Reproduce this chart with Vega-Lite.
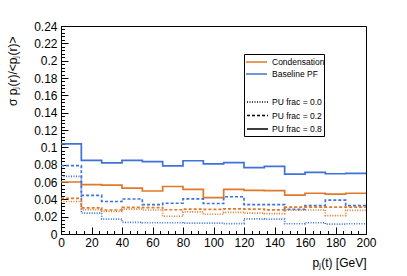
{
  "$schema": "https://vega.github.io/schema/vega-lite/v6.json",
  "width": 305,
  "height": 208,
  "autosize": {"type": "none"},
  "padding": {"left": 61, "top": 26, "right": 41, "bottom": 42},
  "background": "white",
  "config": {"view": {"stroke": "black", "strokeWidth": 1}, "font": "Liberation Sans"},
  "data": {"values": [
    {"algo":"Baseline PF","pu":"0.8","pt":0,"s":0.104},{"algo":"Baseline PF","pu":"0.8","pt":13.333,"s":0.085},{"algo":"Baseline PF","pu":"0.8","pt":26.667,"s":0.082},{"algo":"Baseline PF","pu":"0.8","pt":40,"s":0.085},{"algo":"Baseline PF","pu":"0.8","pt":53.333,"s":0.0835},{"algo":"Baseline PF","pu":"0.8","pt":66.667,"s":0.0785},{"algo":"Baseline PF","pu":"0.8","pt":80,"s":0.0845},{"algo":"Baseline PF","pu":"0.8","pt":93.333,"s":0.081},{"algo":"Baseline PF","pu":"0.8","pt":106.667,"s":0.0823},{"algo":"Baseline PF","pu":"0.8","pt":120,"s":0.0767},{"algo":"Baseline PF","pu":"0.8","pt":133.333,"s":0.078},{"algo":"Baseline PF","pu":"0.8","pt":146.667,"s":0.069},{"algo":"Baseline PF","pu":"0.8","pt":160,"s":0.071},{"algo":"Baseline PF","pu":"0.8","pt":173.333,"s":0.0695},{"algo":"Baseline PF","pu":"0.8","pt":186.667,"s":0.07},{"algo":"Baseline PF","pu":"0.8","pt":200,"s":0.07},
    {"algo":"Condensation","pu":"0.8","pt":0,"s":0.06},{"algo":"Condensation","pu":"0.8","pt":13.333,"s":0.057},{"algo":"Condensation","pu":"0.8","pt":26.667,"s":0.0565},{"algo":"Condensation","pu":"0.8","pt":40,"s":0.053},{"algo":"Condensation","pu":"0.8","pt":53.333,"s":0.0496},{"algo":"Condensation","pu":"0.8","pt":66.667,"s":0.0548},{"algo":"Condensation","pu":"0.8","pt":80,"s":0.0515},{"algo":"Condensation","pu":"0.8","pt":93.333,"s":0.042},{"algo":"Condensation","pu":"0.8","pt":106.667,"s":0.0515},{"algo":"Condensation","pu":"0.8","pt":120,"s":0.0503},{"algo":"Condensation","pu":"0.8","pt":133.333,"s":0.05},{"algo":"Condensation","pu":"0.8","pt":146.667,"s":0.0448},{"algo":"Condensation","pu":"0.8","pt":160,"s":0.047},{"algo":"Condensation","pu":"0.8","pt":173.333,"s":0.046},{"algo":"Condensation","pu":"0.8","pt":186.667,"s":0.047},{"algo":"Condensation","pu":"0.8","pt":200,"s":0.047},
    {"algo":"Baseline PF","pu":"0.2","pt":0,"s":0.079},{"algo":"Baseline PF","pu":"0.2","pt":13.333,"s":0.0445},{"algo":"Baseline PF","pu":"0.2","pt":26.667,"s":0.0375},{"algo":"Baseline PF","pu":"0.2","pt":40,"s":0.0404},{"algo":"Baseline PF","pu":"0.2","pt":53.333,"s":0.034},{"algo":"Baseline PF","pu":"0.2","pt":66.667,"s":0.0355},{"algo":"Baseline PF","pu":"0.2","pt":80,"s":0.0405},{"algo":"Baseline PF","pu":"0.2","pt":93.333,"s":0.0352},{"algo":"Baseline PF","pu":"0.2","pt":106.667,"s":0.043},{"algo":"Baseline PF","pu":"0.2","pt":120,"s":0.034},{"algo":"Baseline PF","pu":"0.2","pt":133.333,"s":0.034},{"algo":"Baseline PF","pu":"0.2","pt":146.667,"s":0.0285},{"algo":"Baseline PF","pu":"0.2","pt":160,"s":0.0328},{"algo":"Baseline PF","pu":"0.2","pt":173.333,"s":0.039},{"algo":"Baseline PF","pu":"0.2","pt":186.667,"s":0.0328},{"algo":"Baseline PF","pu":"0.2","pt":200,"s":0.0328},
    {"algo":"Condensation","pu":"0.2","pt":0,"s":0.041},{"algo":"Condensation","pu":"0.2","pt":13.333,"s":0.0302},{"algo":"Condensation","pu":"0.2","pt":26.667,"s":0.0277},{"algo":"Condensation","pu":"0.2","pt":40,"s":0.0308},{"algo":"Condensation","pu":"0.2","pt":53.333,"s":0.0305},{"algo":"Condensation","pu":"0.2","pt":66.667,"s":0.028},{"algo":"Condensation","pu":"0.2","pt":80,"s":0.0288},{"algo":"Condensation","pu":"0.2","pt":93.333,"s":0.0285},{"algo":"Condensation","pu":"0.2","pt":106.667,"s":0.029},{"algo":"Condensation","pu":"0.2","pt":120,"s":0.0288},{"algo":"Condensation","pu":"0.2","pt":133.333,"s":0.0278},{"algo":"Condensation","pu":"0.2","pt":146.667,"s":0.031},{"algo":"Condensation","pu":"0.2","pt":160,"s":0.031},{"algo":"Condensation","pu":"0.2","pt":173.333,"s":0.031},{"algo":"Condensation","pu":"0.2","pt":186.667,"s":0.031},{"algo":"Condensation","pu":"0.2","pt":200,"s":0.031},
    {"algo":"Baseline PF","pu":"0.0","pt":0,"s":0.0665},{"algo":"Baseline PF","pu":"0.0","pt":13.333,"s":0.024},{"algo":"Baseline PF","pu":"0.0","pt":26.667,"s":0.0172},{"algo":"Baseline PF","pu":"0.0","pt":40,"s":0.0135},{"algo":"Baseline PF","pu":"0.0","pt":53.333,"s":0.013},{"algo":"Baseline PF","pu":"0.0","pt":66.667,"s":0.013},{"algo":"Baseline PF","pu":"0.0","pt":80,"s":0.0125},{"algo":"Baseline PF","pu":"0.0","pt":93.333,"s":0.0125},{"algo":"Baseline PF","pu":"0.0","pt":106.667,"s":0.012},{"algo":"Baseline PF","pu":"0.0","pt":120,"s":0.0175},{"algo":"Baseline PF","pu":"0.0","pt":133.333,"s":0.0172},{"algo":"Baseline PF","pu":"0.0","pt":146.667,"s":0.0118},{"algo":"Baseline PF","pu":"0.0","pt":160,"s":0.013},{"algo":"Baseline PF","pu":"0.0","pt":173.333,"s":0.0115},{"algo":"Baseline PF","pu":"0.0","pt":186.667,"s":0.0118},{"algo":"Baseline PF","pu":"0.0","pt":200,"s":0.0118},
    {"algo":"Condensation","pu":"0.0","pt":0,"s":0.0375},{"algo":"Condensation","pu":"0.0","pt":13.333,"s":0.028},{"algo":"Condensation","pu":"0.0","pt":26.667,"s":0.026},{"algo":"Condensation","pu":"0.0","pt":40,"s":0.0287},{"algo":"Condensation","pu":"0.0","pt":53.333,"s":0.0277},{"algo":"Condensation","pu":"0.0","pt":66.667,"s":0.0205},{"algo":"Condensation","pu":"0.0","pt":80,"s":0.0256},{"algo":"Condensation","pu":"0.0","pt":93.333,"s":0.0228},{"algo":"Condensation","pu":"0.0","pt":106.667,"s":0.025},{"algo":"Condensation","pu":"0.0","pt":120,"s":0.024},{"algo":"Condensation","pu":"0.0","pt":133.333,"s":0.0235},{"algo":"Condensation","pu":"0.0","pt":146.667,"s":0.0275},{"algo":"Condensation","pu":"0.0","pt":160,"s":0.0277},{"algo":"Condensation","pu":"0.0","pt":173.333,"s":0.0213},{"algo":"Condensation","pu":"0.0","pt":186.667,"s":0.0272},{"algo":"Condensation","pu":"0.0","pt":200,"s":0.0272}
  ]},
  "mark": {"type": "line", "interpolate": "step-after", "strokeWidth": 1.7},
  "encoding": {
    "x": {
      "field": "pt", "type": "quantitative",
      "scale": {"domain": [0, 200], "nice": false},
      "axis": {
        "values": [0,5,10,15,20,25,30,35,40,45,50,55,60,65,70,75,80,85,90,95,100,105,110,115,120,125,130,135,140,145,150,155,160,165,170,175,180,185,190,195,200],
        "labelExpr": "datum.value % 20 == 0 ? datum.label : ''",
        "tickSize": {"condition": {"test": "datum.value % 20 == 0", "value": -7}, "value": -3.5},
        "tickColor": "black", "tickWidth": 1, "domainColor": "black", "grid": false,
        "labelOverlap": false, "labelFlush": false,
        "labelFontSize": 12, "labelColor": "black", "labelPadding": 10,
        "title": "pⱼ(t) [GeV]", "titleFontSize": 12, "titleFontWeight": "normal", "titleColor": "black",
        "titleAnchor": "end", "titleAlign": "right", "titleBaseline": "alphabetic", "titleX": 305, "titleY": 32
      }
    },
    "y": {
      "field": "s", "type": "quantitative",
      "scale": {"domain": [0, 0.24], "nice": false},
      "axis": {
        "values": [0,0.004,0.008,0.012,0.016,0.02,0.024,0.028,0.032,0.036,0.04,0.044,0.048,0.052,0.056,0.06,0.064,0.068,0.072,0.076,0.08,0.084,0.088,0.092,0.096,0.1,0.104,0.108,0.112,0.116,0.12,0.124,0.128,0.132,0.136,0.14,0.144,0.148,0.152,0.156,0.16,0.164,0.168,0.172,0.176,0.18,0.184,0.188,0.192,0.196,0.2,0.204,0.208,0.212,0.216,0.22,0.224,0.228,0.232,0.236,0.24],
        "format": ".2~f",
        "labelExpr": "abs(datum.value*50 - round(datum.value*50)) < 1e-6 ? datum.label : ''",
        "tickSize": {"condition": {"test": "abs(datum.value*50 - round(datum.value*50)) < 1e-6", "value": -7}, "value": -3.5},
        "tickColor": "black", "tickWidth": 1, "domainColor": "black", "grid": false,
        "labelOverlap": false, "labelFlush": false,
        "labelFontSize": 12, "labelColor": "black", "labelPadding": 11,
        "title": "σ pⱼ(r)/<pⱼ(r)>", "titleFontSize": 12, "titleFontWeight": "normal", "titleColor": "black",
        "titleAngle": -90, "titleAlign": "right", "titleBaseline": "alphabetic", "titleX": -45, "titleY": 10
      }
    },
    "color": {
      "field": "algo", "type": "nominal",
      "scale": {"domain": ["Condensation", "Baseline PF"], "range": ["#e0782a", "#3d72d9"]},
      "legend": {
        "orient": "none", "legendX": 184, "legendY": 29, "title": null,
        "symbolType": "M-1,0H2.5", "symbolSize": 144, "symbolStrokeWidth": 1.5,
        "labelFont": "Liberation Sans", "labelFontSize": 8.5, "labelColor": "black", "labelOffset": 13,
        "rowPadding": 0, "padding": 0
      }
    },
    "strokeDash": {
      "field": "pu", "type": "nominal",
      "scale": {"domain": ["0.0", "0.2", "0.8"], "range": [[1, 1.5], [3, 2], [1, 0]]},
      "legend": {
        "orient": "none", "legendX": 183, "legendY": 28,
        "title": ["                                          ", " ", " "], "titleOrient": "top", "titleFontSize": 9, "titleLineHeight": 13, "titlePadding": 4,
        "labelExpr": "'PU frac = ' + datum.label",
        "strokeColor": "black", "padding": 2,
        "symbolType": "M-1,0H2.5", "symbolSize": 144, "symbolStrokeWidth": 1.5, "symbolStrokeColor": "black",
        "labelFont": "Liberation Sans", "labelFontSize": 8.5, "labelColor": "black", "labelOffset": 12,
        "rowPadding": 1.5
      }
    }
  }
}
